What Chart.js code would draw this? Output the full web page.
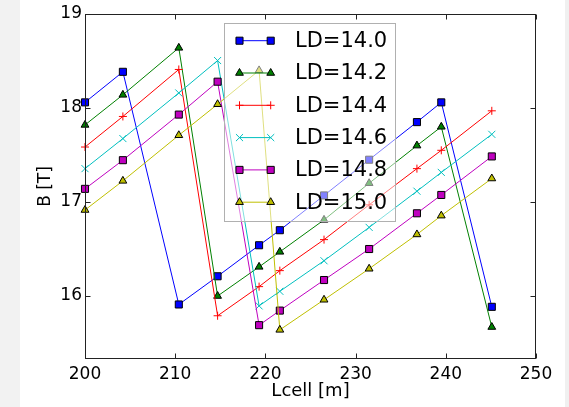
<!DOCTYPE html>
<html>
<head>
<meta charset="utf-8">
<title>B vs Lcell</title>
<script src="https://cdn.jsdelivr.net/npm/chart.js@4.4.1/dist/chart.umd.min.js"></script>
<style>
  html, body { margin: 0; padding: 0; }
  body {
    width: 569px; height: 407px; overflow: hidden;
    background: linear-gradient(to right, #f2f2f2 0px, #f2f2f2 20px, #ffffff 20px, #ffffff 565px, #f0f0f0 565px);
  }
  canvas { display: block; }
</style>
</head>
<body>
<canvas id="grafico" width="569" height="407"></canvas>
<script>
// Longitud de celda (m), común a todas las series
const lcell = [200, 204.2, 210.4, 214.7, 219.3, 221.6, 226.5, 231.5, 236.8, 239.5, 245.1];

// Campo B (T) para cada valor de LD
const b140 = [18.06, 18.385, 15.91, 16.21, 16.54, 16.70, 17.07, 17.45, 17.85, 18.06, 15.885];
const b142 = [17.82, 18.14, 18.64, 16.00, 16.31, 16.47, 16.81, 17.20, 17.60, 17.80, 15.67];
const b144 = [17.585, 17.91, 18.41, 15.79, 16.10, 16.27, 16.60, 16.97, 17.355, 17.55, 17.97];
const b146 = [17.355, 17.675, 18.16, 18.505, 15.895, 16.05, 16.375, 16.73, 17.115, 17.315, 17.72];
const b148 = [17.14, 17.445, 17.93, 18.28, 15.69, 15.845, 16.17, 16.50, 16.88, 17.075, 17.485];
const b150 = [16.915, 17.225, 17.71, 18.04, 18.40, 15.64, 15.96, 16.29, 16.655, 16.855, 17.25];

const etiquetas = ['LD=14.0', 'LD=14.2', 'LD=14.4', 'LD=14.6', 'LD=14.8', 'LD=15.0'];
const valoresB = [b140, b142, b144, b146, b148, b150];

// Marcas de los ejes
const xTicks = [200, 210, 220, 230, 240, 250];
const yTicks = [16, 17, 18, 19];

// Estilo de cada serie: color, marcador y si el marcador lleva borde negro
const estilos = [
    { color: '#0000ff', marcador: 'rect', radio: 5, borde: '#000000' },
    { color: '#008000', marcador: 'triangle', radio: 4.5, borde: '#000000' },
    { color: '#ff0000', marcador: 'cross', radio: 4, borde: null },
    { color: '#00bfbf', marcador: 'crossRot', radio: 5, borde: null },
    { color: '#bf00bf', marcador: 'rect', radio: 5, borde: '#000000' },
    { color: '#bfbf00', marcador: 'triangle', radio: 4.5, borde: '#000000' }
];

const fuente = "'DejaVu Sans', sans-serif";

const datasets = valoresB.map((serie, i) => {
    const e = estilos[i];
    return {
        label: etiquetas[i],
        data: serie.map((v, k) => ({ x: lcell[k], y: v })),
        borderColor: e.color,
        borderWidth: 1,
        pointStyle: e.marcador,
        pointRadius: e.radio,
        pointBackgroundColor: e.color,
        pointBorderColor: e.borde || e.color,
        pointBorderWidth: 1,
        fill: false,
        tension: 0,
        clip: false,
        order: valoresB.length - i
    };
});

// Marco completo del área y marcas hacia dentro en los cuatro lados
const marcoEjes = {
    id: 'marcoEjes',
    afterDatasetsDraw(chart) {
        const { ctx, chartArea: a, scales } = chart;
        const L = Math.round(a.left) + 0.5, R = Math.round(a.right) - 0.5;
        const T = Math.round(a.top) + 0.5, B = Math.round(a.bottom) - 0.5;
        const largo = 5;
        ctx.save();
        ctx.strokeStyle = '#222';
        ctx.lineWidth = 1;
        ctx.beginPath();
        xTicks.forEach(v => {
            const px = Math.round(scales.x.getPixelForValue(v)) + 0.5;
            ctx.moveTo(px, B); ctx.lineTo(px, B - largo);
            ctx.moveTo(px, T); ctx.lineTo(px, T + largo);
        });
        yTicks.forEach(v => {
            const py = Math.round(scales.y.getPixelForValue(v)) + 0.5;
            ctx.moveTo(L, py); ctx.lineTo(L + largo, py);
            ctx.moveTo(R, py); ctx.lineTo(R - largo, py);
        });
        ctx.stroke();
        ctx.strokeRect(L, T, R - L, B - T);
        ctx.restore();
    }
};

// Leyenda con recuadro semitransparente dentro del gráfico
const leyenda = {
    id: 'leyenda',
    afterDatasetsDraw(chart, args, opts) {
        const ctx = chart.ctx;
        ctx.save();
        ctx.fillStyle = 'rgba(255,255,255,0.5)';
        ctx.fillRect(opts.x, opts.y, opts.ancho, opts.alto);
        ctx.strokeStyle = '#b0b0b0';
        ctx.lineWidth = 1;
        ctx.strokeRect(opts.x + 0.5, opts.y + 0.5, opts.ancho - 1, opts.alto - 1);
        chart.data.datasets.forEach((ds, i) => {
            const y = opts.y + opts.primera + i * opts.paso;
            const x0 = opts.x + opts.lineaIni, x1 = opts.x + opts.lineaFin;
            ctx.strokeStyle = ds.borderColor;
            ctx.lineWidth = 1;
            ctx.beginPath();
            ctx.moveTo(x0, y); ctx.lineTo(x1, y);
            ctx.stroke();
            const punto = {
                pointStyle: ds.pointStyle,
                radius: ds.pointRadius,
                rotation: 0,
                borderWidth: ds.pointBorderWidth
            };
            [x0, x1].forEach(px => {
                ctx.fillStyle = ds.pointBackgroundColor;
                ctx.strokeStyle = ds.pointBorderColor;
                ctx.lineWidth = ds.pointBorderWidth;
                Chart.helpers.drawPoint(ctx, punto, px, y);
            });
            ctx.fillStyle = '#000';
            ctx.font = '21px ' + fuente;
            ctx.textBaseline = 'middle';
            ctx.textAlign = 'left';
            ctx.fillText(ds.label, opts.x + opts.texto, y + 1);
        });
        ctx.restore();
    }
};

new Chart(document.getElementById('grafico').getContext('2d'), {
    type: 'line',
    data: { datasets: datasets },
    options: {
        responsive: false,
        animation: false,
        devicePixelRatio: 1,
        layout: { padding: { top: 14, right: 33, left: 0, bottom: 0 } },
        scales: {
            x: {
                type: 'linear',
                min: 200,
                max: 250,
                afterBuildTicks: scale => { scale.ticks = xTicks.map(v => ({ value: v })); },
                afterFit: scale => { scale.height = 48; },
                grid: { display: false, drawTicks: false },
                border: { display: false },
                ticks: {
                    color: '#000',
                    padding: 5,
                    maxRotation: 0,
                    font: { family: fuente, size: 17 }
                },
                title: {
                    display: true,
                    text: 'Lcell [m]',
                    color: '#000',
                    font: { family: fuente, size: 18 },
                    padding: { top: 0, bottom: 5 }
                }
            },
            y: {
                type: 'linear',
                min: 15.33,
                max: 19,
                afterBuildTicks: scale => { scale.ticks = yTicks.map(v => ({ value: v })); },
                afterFit: scale => { scale.width = 85; },
                grid: { display: false, drawTicks: false },
                border: { display: false },
                ticks: {
                    color: '#000',
                    padding: 3,
                    font: { family: fuente, size: 17 }
                },
                title: {
                    display: true,
                    text: 'B [T]',
                    color: '#000',
                    font: { family: fuente, size: 17 },
                    padding: { top: 35, bottom: 0 }
                }
            }
        },
        plugins: {
            legend: { display: false },
            tooltip: { enabled: false },
            leyenda: {
                x: 224, y: 23, ancho: 172, alto: 199,
                primera: 17.7, paso: 32.3,
                lineaIni: 15.5, lineaFin: 46.7, texto: 71
            }
        }
    },
    plugins: [marcoEjes, leyenda]
});
</script>
</body>
</html>
